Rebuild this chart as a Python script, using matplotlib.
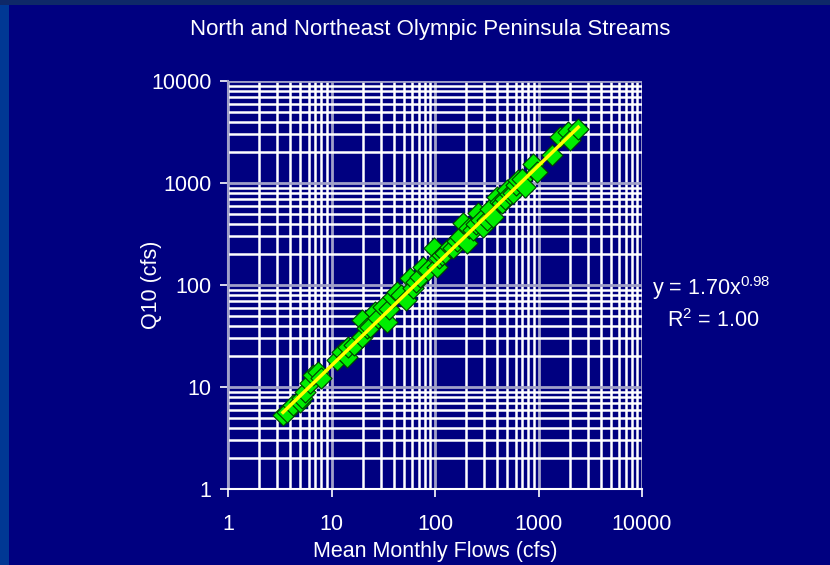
import numpy as np
import matplotlib.pyplot as plt
from matplotlib.patches import Rectangle

plt.rcParams['font.family'] = ['Liberation Sans', 'DejaVu Sans']
plt.rcParams['mathtext.default'] = 'regular'

# mean monthly flow (cfs) and Q10 (cfs)
flow = [3.4, 3.7, 4.2, 5.0, 5.2, 5.6, 6.2, 6.6, 7.4, 8.0,
        11.2, 12.6, 14.0, 14.4, 16.5, 19.6, 19.6, 21.9, 23.5, 26.3,
        28.1, 31.3, 34.1, 36.0, 39.3, 42.7, 47.0, 52.9, 57.1, 61.1,
        66.0, 72.0, 76.9, 85.0, 97.0, 104, 110, 118, 125, 139,
        150, 162, 175, 188, 202, 215, 234, 250, 262, 280,
        293, 316, 340, 366, 396, 420, 444, 470, 494, 530,
        572, 600, 640, 700, 743, 891, 962, 1340, 1600, 1940,
        2010, 2420]
q10 = [5.3, 5.7, 6.6, 7.2, 7.8, 8.9, 10.9, 13.1, 14.1, 12.2,
       18.4, 22.2, 19.8, 24.9, 26.0, 31.1, 45.3, 37.6, 38.5, 54.8,
       47.5, 61.3, 43.6, 58.0, 77.0, 86.3, 80.0, 71.3, 116, 93,
       108, 120, 150, 140, 228, 150, 185, 196, 205, 236,
       232, 270, 296, 401, 256, 360, 346, 395, 507, 430,
       372, 434, 560, 469, 735, 650, 630, 700, 856, 780,
       795, 950, 1076, 1100, 921, 1540, 1290, 1870, 2830, 3180,
       2640, 3400]

coef_a = 1.70
coef_b = 0.98

fig = plt.figure(figsize=(8.3, 5.65), dpi=100)
fig.patch.set_facecolor('#000080')
fig.patches.append(Rectangle((0, 0), 9 / 830, 1, transform=fig.transFigure,
                             facecolor='#003894', edgecolor='none', zorder=0))
fig.patches.append(Rectangle((0, 1 - 5 / 565), 1, 5 / 565, transform=fig.transFigure,
                             facecolor='#0e2868', edgecolor='none', zorder=0))

ax = fig.add_axes([228 / 830, 76 / 565, 414 / 830, 408 / 565])
ax.set_facecolor('#000080')
ax.set_xscale('log')
ax.set_yscale('log')
ax.set_xlim(1, 10000)
ax.set_ylim(1, 10000)

ax.grid(True, which='minor', color='white', linewidth=1.8)
ax.grid(True, which='major', color='#a0a0c8', linewidth=2)
ax.set_axisbelow(True)

ax.scatter(flow, q10, marker='D', s=115, facecolor='#00ee00', edgecolor='#004000',
           linewidth=0.8, zorder=3)

x_fit = np.logspace(np.log10(min(flow)), np.log10(max(flow)), 100)
ax.plot(x_fit, coef_a * x_fit ** coef_b, color='#ffff00', linewidth=2.5, zorder=4)

for side in ['top', 'right']:
    ax.spines[side].set_visible(False)
ax.spines['left'].set_color('#a0a0c8')
ax.spines['bottom'].set_color('white')
ax.spines['left'].set_linewidth(1.5)
ax.spines['bottom'].set_linewidth(1.5)

ax.tick_params(axis='both', which='major', colors='white', labelsize=15.5,
               length=6, direction='out', width=1.2, pad=6)
ax.tick_params(axis='x', which='minor', direction='in', length=6, colors='white')
ax.tick_params(axis='y', which='minor', length=0)
ax.tick_params(axis='x', which='major', pad=12)
ticks = [1, 10, 100, 1000, 10000]
ax.set_xticks(ticks)
ax.set_xticklabels([str(t) for t in ticks])
ax.set_yticks(ticks)
ax.set_yticklabels([str(t) for t in ticks])

ax.set_xlabel('Mean Monthly Flows (cfs)', color='white', fontsize=15.5, labelpad=4)
ax.set_ylabel('Q10 (cfs)', color='white', fontsize=15.5)
ax.yaxis.set_label_coords(-0.16, 0.5)
fig.text(0.518, 1 - 30 / 565, 'North and Northeast Olympic Peninsula Streams',
         color='white', fontsize=16, ha='center', va='center')

fig.text(652 / 830, 1 - 288 / 565, r'y = %.2fx$^{%.2f}$' % (coef_a, coef_b),
         color='white', fontsize=15.5, ha='left', va='center')
fig.text(667 / 830, 1 - 321 / 565, r'R$^{2}$ = 1.00',
         color='white', fontsize=15.5, ha='left', va='center')

fig.savefig('out.png', dpi=100, facecolor=fig.get_facecolor())
